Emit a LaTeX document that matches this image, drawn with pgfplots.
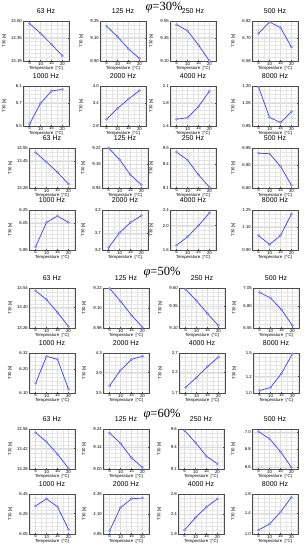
\documentclass[border=0pt]{standalone}
\usepackage{fontspec}
\setmainfont{Liberation Sans}
\newfontfamily\seriffont{Liberation Serif}
\usepackage{pgfplots}
\pgfplotsset{compat=1.18}
\definecolor{lineblue}{RGB}{60,60,250}
\definecolor{markblue}{RGB}{160,160,255}
\pgfplotsset{
  panel/.style={
    width=46pt, height=40pt, scale only axis, anchor=north west,
    xmin=2, xmax=23, xtick={5,10,15,20}, xticklabels={5,10,15,20},
    minor xtick={2.5,7.5,12.5,17.5,22.5},
    grid=both,
    major grid style={gray!28, line width=0.3pt},
    minor grid style={gray!20, line width=0.25pt},
    axis line style={gray!60!black, line width=0.4pt},
    tick align=inside, major tick length=1.2pt, minor tick length=0pt,
    tick style={gray!60!black, line width=0.3pt},
    ticklabel style={font=\fontsize{4.3}{5}\selectfont},
    xticklabel style={inner sep=0.8pt},
    yticklabel style={inner sep=1pt},
    title style={at={(axis description cs:0.5,1)}, anchor=base, yshift=1.6pt, inner sep=0pt, font=\fontsize{7}{8}\selectfont},
    xlabel={Temperature\ \ [°C]},
    ylabel={T30 [s]},
    every axis x label/.style={at={(axis description cs:0.5,-0.19)}, anchor=center, inner sep=0pt, font=\fontsize{4.3}{5}\selectfont},
    every axis y label/.style={at={(axis description cs:-0.41,0.5)}, anchor=center, inner sep=0pt, rotate=90, font=\fontsize{4.3}{5}\selectfont},
  },
  dataline/.style={color=lineblue, line width=0.7pt, mark=*, mark size=1.2pt, mark options={fill=markblue, draw=lineblue!70, line width=0.25pt}},
}
\newcommand\panel[8]{%
  \pgfmathsetmacro\ysecond{#4+(#5-#4)/10}%
  \begin{axis}[panel, at={(#1pt,-#2pt)}, title={#3}, ymin=#4, ymax=#5,
    ytick={#6}, yticklabels={#7}, minor ytick={#4,\ysecond,...,#5}]
  \addplot[dataline] coordinates {#8};
  \end{axis}}
\begin{document}
\begin{tikzpicture}
\useasboundingbox (0pt,0pt) rectangle (307pt,-550pt);
% ---------- block 1 (phi = 30%) ----------
\node[font=\seriffont\fontsize{12.5}{13}\selectfont] at (164pt,-8pt) {\textit{φ}=30\%};
\panel{23}{21}{63 Hz}{13.19}{13.50}{13.19,13.370,13.50}{13.19,13.35,13.50}{(5,13.48)(10,13.405)(15,13.32)(20,13.23)}
\panel{100}{21}{125 Hz}{8.90}{9.25}{8.90,9.103,9.25}{8.90,9.10,9.25}{(5,9.205)(10,9.113)(15,9.006)(20,8.923)}
\panel{170}{21}{250 Hz}{9.10}{9.55}{9.10,9.361,9.55}{9.10,9.35,9.55}{(5,9.51)(10,9.44)(15,9.28)(20,9.10)}
\panel{252}{21}{500 Hz}{6.58}{6.82}{6.58,6.719,6.82}{6.58,6.70,6.82}{(5,6.746)(10,6.814)(15,6.78)(20,6.664)}
\panel{23}{86}{1000 Hz}{5.5}{6.1}{5.5,5.848,6.1}{5.5,5.7,6.1}{(5,5.53)(10,5.84)(15,6.025)(20,6.05)}
\panel{100}{86}{2000 Hz}{2.8}{4.0}{2.8,3.496,4.0}{2.8,3.4,4.0}{(5,3.0)(10,3.33)(15,3.61)(20,3.86)}
\panel{170}{86}{4000 Hz}{1.4}{2.1}{1.4,1.806,2.1}{1.4,1.8,2.1}{(5,1.52)(10,1.545)(15,1.74)(20,2.01)}
\panel{252}{86}{8000 Hz}{0.85}{1.20}{0.85,1.053,1.20}{0.85,1.05,1.20}{(5,1.19)(10,0.926)(15,0.88)(20,0.975)}
% ---------- block 2 ----------
\panel{29}{148}{63 Hz}{13.28}{13.55}{13.28,13.461,13.55}{13.28,13.45,13.55}{(5,13.52)(10,13.455)(15,13.386)(20,13.307)}
\panel{102}{148}{125 Hz}{8.94}{9.22}{8.94,9.108,9.22}{8.94,9.15,9.22}{(5,9.22)(10,9.139)(15,9.032)(20,8.962)}
\panel{170}{148}{250 Hz}{9.1}{9.5}{9.1,9.34,9.5}{9.1,9.4,9.5}{(5,9.46)(10,9.38)(15,9.232)(20,9.108)}
\panel{252}{148}{500 Hz}{6.60}{6.95}{6.60,6.803,6.95}{6.60,6.80,6.95}{(5,6.905)(10,6.90)(15,6.79)(20,6.625)}
\panel{29}{210}{1000 Hz}{5.85}{6.25}{5.85,6.118,6.25}{5.85,6.05,6.25}{(5,5.882)(10,6.126)(15,6.19)(20,6.126)}
\panel{102}{210}{2000 Hz}{3.2}{4.2}{3.2,3.63,4.2}{3.2,3.7,4.2}{(5,3.26)(10,3.63)(15,3.89)(20,4.06)}
\panel{170}{210}{4000 Hz}{1.6}{2.4}{1.6,2.088,2.4}{1.6,2.0,2.4}{(5,1.696)(10,1.864)(15,2.088)(20,2.344)}
\panel{252}{210}{8000 Hz}{0.90}{1.25}{0.90,1.10,1.25}{0.90,1.10,1.25}{(5,1.026)(10,0.949)(15,1.026)(20,1.215)}
% ---------- block 3 (phi = 50%) ----------
\node[font=\seriffont\fontsize{12.5}{13}\selectfont] at (162pt,-273pt) {\textit{φ}=50\%};
\panel{29}{288}{63 Hz}{13.26}{13.54}{13.26,13.407,13.54}{13.26,13.40,13.54}{(5,13.52)(10,13.459)(15,13.369)(20,13.271)}
\panel{103}{288}{125 Hz}{8.98}{9.22}{8.98,9.10,9.22}{8.98,9.10,9.22}{(5,9.218)(10,9.141)(15,9.057)(20,8.985)}
\panel{179}{288}{250 Hz}{9.10}{9.60}{9.10,9.37,9.60}{9.10,9.35,9.60}{(5,9.585)(10,9.44)(15,9.28)(20,9.13)}
\panel{253}{288}{500 Hz}{6.55}{7.05}{6.55,6.82,7.05}{6.55,6.80,7.05}{(5,6.995)(10,6.925)(15,6.78)(20,6.58)}
\panel{29}{353}{1000 Hz}{6.10}{6.32}{6.10,6.23,6.32}{6.10,6.20,6.32}{(5,6.153)(10,6.302)(15,6.285)(20,6.122)}
\panel{103}{353}{2000 Hz}{3.5}{4.3}{3.5,3.908,4.3}{3.5,3.9,4.3}{(5,3.644)(10,3.956)(15,4.172)(20,4.236)}
\panel{179}{353}{4000 Hz}{1.7}{2.7}{1.7,2.22,2.7}{1.7,2.2,2.7}{(5,1.84)(10,2.09)(15,2.36)(20,2.60)}
\panel{253}{353}{8000 Hz}{1.0}{1.5}{1.0,1.205,1.5}{1.0,1.2,1.5}{(5,1.03)(10,1.07)(15,1.245)(20,1.49)}
% ---------- block 4 (phi = 60%) ----------
\node[font=\seriffont\fontsize{12.5}{13}\selectfont] at (162pt,-415pt) {\textit{φ}=60\%};
\panel{29}{429}{63 Hz}{13.28}{13.56}{13.28,13.423,13.56}{13.28,13.42,13.56}{(5,13.535)(10,13.47)(15,13.384)(20,13.286)}
\panel{103}{429}{125 Hz}{9.00}{9.24}{9.00,9.132,9.24}{9.00,9.14,9.24}{(5,9.216)(10,9.154)(15,9.067)(20,9.01)}
\panel{178}{429}{250 Hz}{9.1}{9.6}{9.1,9.375,9.6}{9.1,9.4,9.6}{(5,9.58)(10,9.43)(15,9.26)(20,9.165)}
\panel{252}{429}{500 Hz}{6.56}{7.04}{6.58,6.8,7.0}{6.6,6.8,7.0}{(5,7.008)(10,6.923)(15,6.768)(20,6.58)}
\panel{29}{494}{1000 Hz}{6.05}{6.45}{6.05,6.254,6.45}{6.05,6.25,6.45}{(5,6.33)(10,6.402)(15,6.322)(20,6.098)}
\panel{103}{494}{2000 Hz}{3.85}{4.35}{3.85,4.095,4.35}{3.85,4.10,4.35}{(5,3.89)(10,4.18)(15,4.29)(20,4.30)}
\panel{178}{494}{4000 Hz}{1.9}{2.8}{1.9,2.34,2.8}{1.9,2.4,2.8}{(5,1.99)(10,2.27)(15,2.51)(20,2.69)}
\panel{252}{494}{8000 Hz}{1.0}{1.8}{1.0,1.424,1.8}{1.0,1.4,1.8}{(5,1.08)(10,1.20)(15,1.44)(20,1.736)}
\end{tikzpicture}
\end{document}
